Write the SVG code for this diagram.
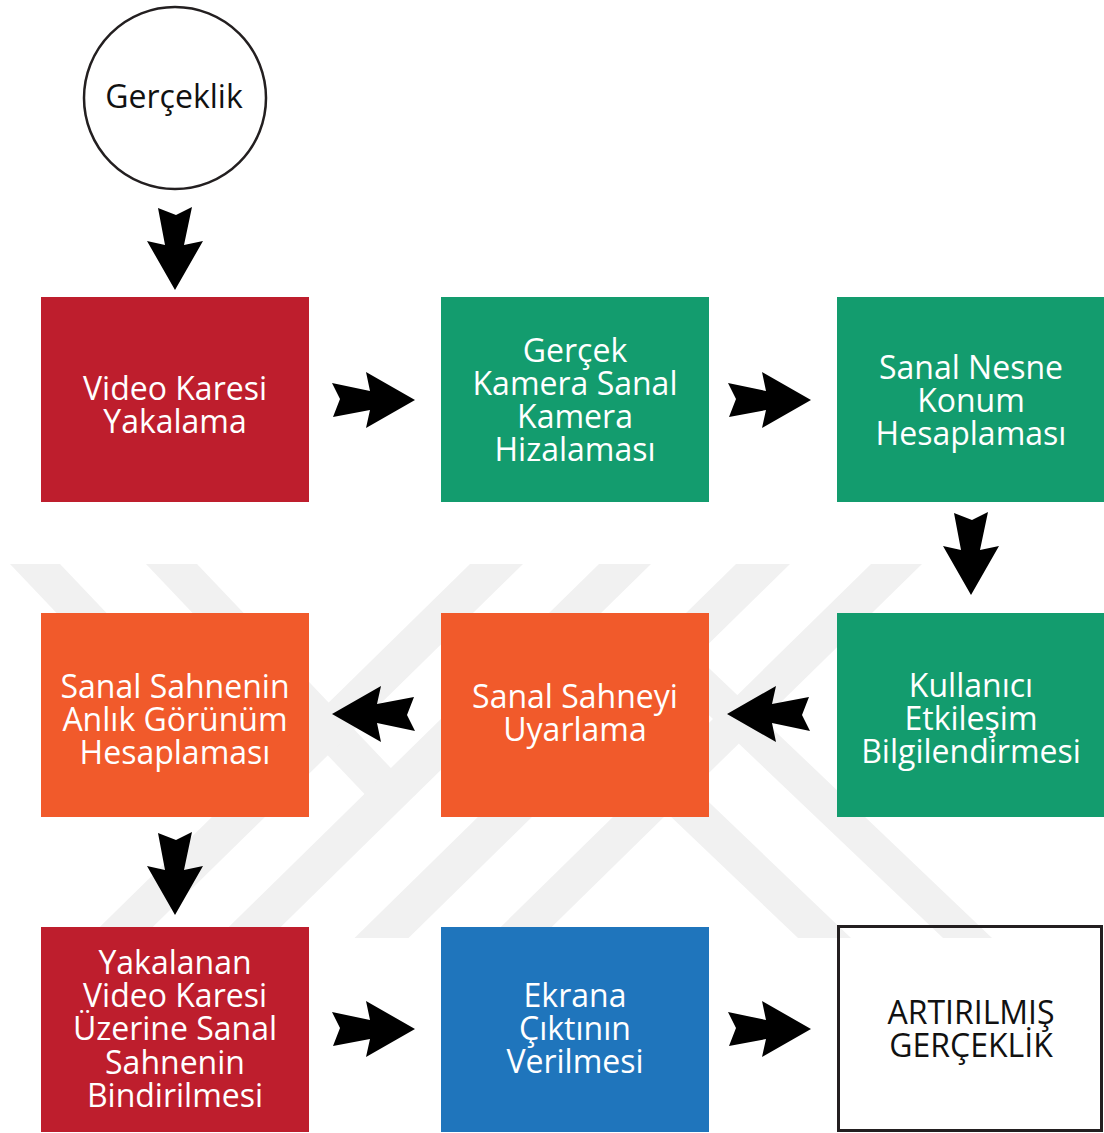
<svg xmlns="http://www.w3.org/2000/svg" width="1104" height="1133" viewBox="0 0 1104 1133">
  <style>
    .lbl { font-family: "Open Sans", "Noto Sans", "Liberation Sans", sans-serif; font-size: 32px; text-anchor: middle; fill: #ffffff; }
    .dark { fill: #111111; }
    .wm { fill: #f1f1f1; }
    .red { fill: #be1e2d; }
    .green { fill: #139c6e; }
    .orange { fill: #f15a2b; }
    .blue { fill: #1f75bc; }
    .arrow { fill: #000000; }
  </style>
  <defs>
    <path id="arr" d="M0,0 L-49,-28 L-45,-9 L-83,-17 L-75,-1 L-82,17 L-45,10 L-49,28 Z"/>
    <clipPath id="wmclip"><rect x="0" y="564" width="1104" height="376"/></clipPath>
  </defs>
  <rect width="1104" height="1133" fill="#ffffff"/>

  <g id="watermark" clip-path="url(#wmclip)">
    <polygon class="wm" points="10,564 60,564 278.5,794 228.5,794"/>
    <polygon class="wm" points="146,564 197,564 416,794.5 364.5,794"/>
    <polygon class="wm" points="470,564 523,564 141.5,938 88.5,938"/>
    <polygon class="wm" points="599,564 651,564 269.5,938 217.5,938"/>
    <polygon class="wm" points="736,564 790,564 408.5,938 354.5,938"/>
    <polygon class="wm" points="871,564 922,564 540.5,938 489.5,938"/>
    <polygon class="wm" points="668,763 851,938 798,938 667.5,813.6"/>
    <polygon class="wm" points="669,630 992,938 943,938 672,680"/>
  </g>

  <g id="connectors">
    <use href="#arr" class="arrow" transform="translate(175,290) rotate(90)"/>
    <use href="#arr" class="arrow" transform="translate(415,400)"/>
    <use href="#arr" class="arrow" transform="translate(811,400)"/>
    <use href="#arr" class="arrow" transform="translate(971,595) rotate(90)"/>
    <use href="#arr" class="arrow" transform="translate(332,714) rotate(180)"/>
    <use href="#arr" class="arrow" transform="translate(727,714) rotate(180)"/>
    <use href="#arr" class="arrow" transform="translate(175,915) rotate(90)"/>
    <use href="#arr" class="arrow" transform="translate(415,1029)"/>
    <use href="#arr" class="arrow" transform="translate(811,1029)"/>
  </g>

  <g id="n-gerceklik">
    <circle cx="175" cy="98" r="91" fill="#ffffff" stroke="#231f20" stroke-width="2.5"/>
    <text class="lbl dark" x="174" y="108">Gerçeklik</text>
  </g>

  <g id="n-video">
    <rect class="red" x="41" y="297" width="268" height="205"/>
    <text class="lbl" x="175" y="400">Video Karesi<tspan x="175" dy="33">Yakalama</tspan></text>
  </g>

  <g id="n-hizalama">
    <rect class="green" x="441" y="297" width="268" height="205"/>
    <text class="lbl" x="575" y="362">Gerçek<tspan x="575" dy="33">Kamera Sanal</tspan><tspan x="575" dy="33">Kamera</tspan><tspan x="575" dy="33">Hizalaması</tspan></text>
  </g>

  <g id="n-nesne">
    <rect class="green" x="837" y="297" width="268" height="205"/>
    <text class="lbl" x="971" y="379">Sanal Nesne<tspan x="971" dy="33">Konum</tspan><tspan x="971" dy="33">Hesaplaması</tspan></text>
  </g>

  <g id="n-kullanici">
    <rect class="green" x="837" y="613" width="268" height="204"/>
    <text class="lbl" x="971" y="697">Kullanıcı<tspan x="971" dy="33">Etkileşim</tspan><tspan x="971" dy="33">Bilgilendirmesi</tspan></text>
  </g>

  <g id="n-uyarlama">
    <rect class="orange" x="441" y="613" width="268" height="204"/>
    <text class="lbl" x="575" y="708">Sanal Sahneyi<tspan x="575" dy="33">Uyarlama</tspan></text>
  </g>

  <g id="n-anlik">
    <rect class="orange" x="41" y="613" width="268" height="204"/>
    <text class="lbl" x="175" y="698">Sanal Sahnenin<tspan x="175" dy="33">Anlık Görünüm</tspan><tspan x="175" dy="33">Hesaplaması</tspan></text>
  </g>

  <g id="n-bindirme">
    <rect class="red" x="41" y="927" width="268" height="205"/>
    <text class="lbl" x="175" y="974">Yakalanan<tspan x="175" dy="33">Video Karesi</tspan><tspan x="175" dy="33">Üzerine Sanal</tspan><tspan x="175" dy="34">Sahnenin</tspan><tspan x="175" dy="33">Bindirilmesi</tspan></text>
  </g>

  <g id="n-ekran">
    <rect class="blue" x="441" y="927" width="268" height="205"/>
    <text class="lbl" x="575" y="1007">Ekrana<tspan x="575" dy="33">Çıktının</tspan><tspan x="575" dy="33">Verilmesi</tspan></text>
  </g>

  <g id="n-artirilmis">
    <rect x="838.5" y="926.5" width="263" height="204" fill="none" stroke="#231f20" stroke-width="3"/>
    <text class="lbl dark" x="971" y="1024">ARTIRILMIŞ<tspan x="971" dy="33">GERÇEKLİK</tspan></text>
  </g>
</svg>
